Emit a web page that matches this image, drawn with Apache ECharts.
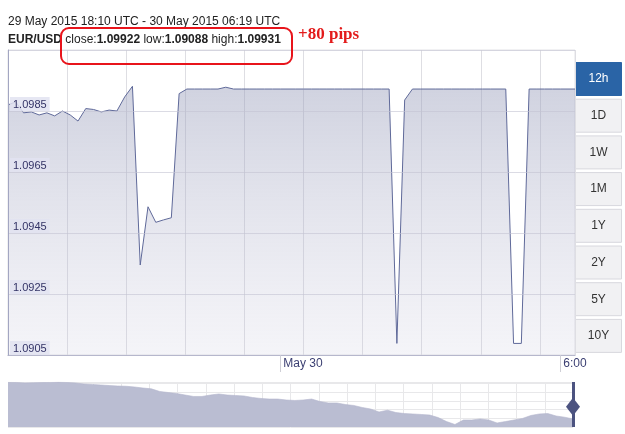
<!DOCTYPE html>
<html>
<head>
<meta charset="utf-8">
<script src="https://cdn.jsdelivr.net/npm/echarts@6/dist/echarts.min.js"></script>
<style>
html, body { margin: 0; padding: 0; background: #fff; }
#main { width: 625px; height: 434px; }
</style>
</head>
<body>
<div id="main"></div>
<script>
// EUR/USD 10 minute quotes (UTC), 29 May 18:10 -> 30 May 06:19
const times = [
  '18:10','18:20','18:30','18:40','18:50','19:00','19:10','19:20','19:30','19:40','19:50',
  '20:00','20:10','20:20','20:30','20:40','20:50','21:00','21:10','21:20','21:30','21:40','21:50',
  '22:00','22:10','22:20','22:30','22:40','22:50','23:00','23:10','23:20','23:30','23:40','23:50',
  '00:00','00:10','00:20','00:30','00:40','00:50','01:00','01:10','01:20','01:30','01:40','01:50',
  '02:00','02:10','02:20','02:30','02:40','02:50','03:00','03:10','03:20','03:30','03:40','03:50',
  '04:00','04:10','04:20','04:30','04:40','04:50','05:00','05:10','05:20','05:30','05:40','05:50',
  '06:00','06:10','06:19'
];
const rates = [
  1.09870,1.09880,1.09844,1.09847,1.09837,1.09844,1.09834,1.09850,1.09837,1.09817,1.09858,
  1.09855,1.09847,1.09853,1.09850,1.09896,1.09931,1.09345,1.09536,1.09485,1.09493,1.09500,1.09907,
  1.09922,1.09922,1.09922,1.09922,1.09922,1.09928,1.09922,1.09922,1.09922,1.09922,1.09922,1.09922,
  1.09922,1.09922,1.09922,1.09922,1.09922,1.09922,1.09922,1.09922,1.09922,1.09922,1.09922,1.09922,
  1.09922,1.09922,1.09922,1.09088,1.09886,1.09922,1.09922,1.09922,1.09922,1.09922,1.09922,1.09922,
  1.09922,1.09922,1.09922,1.09922,1.09922,1.09922,1.09088,1.09088,1.09922,1.09922,1.09922,1.09922,
  1.09922,1.09922,1.09922
];

// navigator (longer history)
const navRates = [
  1.1446,1.1444,1.1438,1.1440,1.1443,1.1444,1.1450,1.1444,1.1438,1.1425,1.1419,1.1413,
  1.1406,1.1400,1.1397,1.1388,1.1375,1.1365,1.1332,1.1319,1.1307,1.1288,1.1270,1.1270,
  1.1288,1.1301,1.1288,1.1282,1.1276,1.1257,1.1245,1.1238,1.1238,1.1226,1.1220,1.1226,
  1.1238,1.1207,1.1189,1.1189,1.1170,1.1158,1.1133,1.1114,1.1077,1.1099,1.1070,1.1058,
  1.1052,1.1046,1.1039,1.1008,1.0958,1.0921,1.0977,1.0977,1.0990,1.0977,1.0940,1.0958,
  1.0977,1.0996,1.1033,1.1052,1.1058,1.1027,1.1012,1.0990
];
const navMin = 1.089, navMax = 1.145;

// axis
const yMin = 1.0905, yMax = 1.1005, yStep = 0.002;
const xLabelTimes = ['00:00', '06:00'];
const xLabelTexts = ['May 30', '6:00'];

// header
const pair = 'EUR/USD';
const statNames = ['close', 'low', 'high'];
const statValues = ['1.09922', '1.09088', '1.09931'];
const rangeButtons = ['12h', '1D', '1W', '1M', '1Y', '2Y', '5Y', '10Y'];

function toTs(hm) {
  const [h, m] = hm.split(':').map(Number);
  const day = h >= 18 ? 29 : 30;
  return Date.UTC(2015, 4, day, h, m);
}

const font = '"Liberation Sans", Arial, sans-serif';
const xLabelTs = xLabelTimes.map(toTs);

const statLine = '{b|' + pair + '} ' +
  statNames.map((n, i) => n + ':{b|' + statValues[i] + '}').join(' ');

const buttons = rangeButtons.map((r, i) => ({
  type: 'group',
  x: 575,
  y: 62 + i * 36.7,
  children: [
    { type: 'rect', shape: { x: 0.5, y: 0.5, width: 46, height: 33 },
      style: { fill: i === 0 ? '#2a64a6' : '#f1f1f3', stroke: i === 0 ? '#2a64a6' : '#d8d8de', lineWidth: 1 } },
    { type: 'text', x: 23.5, y: 17,
      style: { text: r, fill: i === 0 ? '#fff' : '#333', font: '12px ' + font, align: 'center', verticalAlign: 'middle' } }
  ]
}));

const chart = echarts.init(document.getElementById('main'));
const option = {
  animation: false,
  title: [
    { text: '29 May 2015 18:10 UTC - 30 May 2015 06:19 UTC', left: 8, top: 16, padding: 0,
      textStyle: { fontFamily: font, fontSize: 12, fontWeight: 'normal', color: '#222' } },
    { text: statLine, left: 8, top: 34, padding: 0,
      textStyle: { fontFamily: font, fontSize: 12, fontWeight: 'normal', color: '#222',
        rich: { b: { fontFamily: font, fontSize: 12, fontWeight: 'bold', color: '#222' } } } }
  ],
  graphic: [
    { type: 'rect', z: 100, shape: { x: 61, y: 28, width: 231, height: 36, r: 8 },
      style: { fill: 'none', stroke: '#e8141b', lineWidth: 2 } },
    { type: 'text', z: 100, x: 298, y: 35,
      style: { text: '+80 pips', fill: '#e31b1b', font: 'bold 17px "Liberation Serif", serif', verticalAlign: 'middle' } }
  ].concat(buttons),
  grid: [
    { left: 8, top: 50, width: 567, height: 305, show: true, borderColor: '#e2e2e6', borderWidth: 1 },
    { left: 8, top: 382, width: 565, height: 45 }
  ],
  xAxis: [
    // timestamps on a linear scale, labels only at midnight and 6:00
    { type: 'value', gridIndex: 0, min: toTs(times[0]), max: toTs(times[times.length - 1]),
      axisLine: { lineStyle: { color: '#a3a6c2' } },
      axisTick: { show: true, length: 17, customValues: xLabelTs, lineStyle: { color: '#cfcfd6' } },
      axisLabel: { customValues: xLabelTs, color: '#3b3f72', fontFamily: font, fontSize: 12,
        align: 'left', padding: [0, 0, 0, 3], margin: 3,
        formatter: v => xLabelTexts[xLabelTs.indexOf(v)] || '' },
      splitLine: { show: false } },
    { type: 'value', gridIndex: 0, min: 0, max: 567 / 59.1, interval: 1,
      axisLine: { show: false }, axisTick: { show: false }, axisLabel: { show: false },
      splitLine: { show: true, lineStyle: { color: '#dedee3' } } },
    { type: 'category', gridIndex: 1, boundaryGap: false, data: navRates.map((_, i) => i),
      axisLine: { show: false }, axisTick: { show: false }, axisLabel: { show: false },
      splitLine: { show: false } },
    { type: 'value', gridIndex: 1, min: 0, max: 20, interval: 1,
      axisLine: { show: false }, axisTick: { show: false }, axisLabel: { show: false },
      splitLine: { show: true, lineStyle: { color: '#e8e8ea' } } }
  ],
  yAxis: [
    { type: 'value', gridIndex: 0, min: yMin, max: yMax, interval: yStep, z: 10,
      axisLine: { show: true, lineStyle: { color: '#a3a6c2' } },
      axisTick: { show: false },
      axisLabel: { inside: true, showMaxLabel: false, margin: 2, verticalAlign: 'bottom',
        padding: [2, 3, 1, 3], backgroundColor: 'rgba(226,227,241,0.85)',
        color: '#333366', fontFamily: font, fontSize: 11,
        formatter: v => v.toFixed(4) },
      splitLine: { lineStyle: { color: 'rgba(195,195,210,0.6)' } } },
    { type: 'value', gridIndex: 1, min: navMin, max: navMax,
      axisLine: { show: false }, axisTick: { show: false }, axisLabel: { show: false },
      splitLine: { show: false } },
    { type: 'value', gridIndex: 1, min: 0, max: 45 / 8.7, interval: 1,
      axisLine: { show: false }, axisTick: { show: false }, axisLabel: { show: false },
      splitLine: { show: true, lineStyle: { color: '#e8e8ea' } } }
  ],
  series: [
    {
      name: pair, type: 'line', xAxisIndex: 0, yAxisIndex: 0,
      data: times.map((t, i) => [toTs(t), rates[i]]),
      symbol: 'none',
      lineStyle: { color: '#5f6999', width: 1 },
      areaStyle: {
        origin: 'start',
        color: new echarts.graphic.LinearGradient(0, 0, 0, 1, [
          { offset: 0, color: 'rgba(150,155,185,0.64)' },
          { offset: 1, color: 'rgba(200,200,220,0.28)' }
        ])
      }
    },
    {
      name: 'navigator', type: 'line', xAxisIndex: 2, yAxisIndex: 1,
      data: navRates,
      symbol: 'none',
      lineStyle: { color: '#b3b6cc', width: 0.6 },
      areaStyle: { origin: 'start', color: '#babdd2', opacity: 1 },
      markLine: {
        silent: true, symbol: 'none', label: { show: false },
        lineStyle: { color: '#4c5380', width: 3, type: 'solid' },
        data: [{ xAxis: navRates.length - 1 }]
      },
      markPoint: {
        silent: true, symbol: 'diamond', symbolSize: [14, 18],
        itemStyle: { color: '#4c5380' }, label: { show: false },
        data: [{ coord: [navRates.length - 1, navMin + (navMax - navMin) * 0.45] }]
      }
    }
  ]
};
chart.setOption(option);
</script>
</body>
</html>
